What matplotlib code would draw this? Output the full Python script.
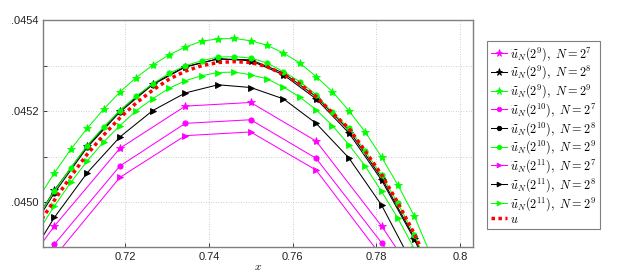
import matplotlib
matplotlib.use("Agg")
import matplotlib.pyplot as plt

plt.rcParams['font.family'] = ['Liberation Sans', 'DejaVu Sans']
plt.rcParams['mathtext.fontset'] = 'cm'

# mesh nodes
x256 = [0.699219, 0.703125, 0.707031, 0.710938, 0.714844, 0.71875, 0.722656, 0.726563,
        0.730469, 0.734375, 0.738281, 0.742188, 0.746094, 0.75, 0.753906, 0.757813,
        0.761719, 0.765625, 0.769531, 0.773438, 0.777344, 0.78125, 0.785156, 0.789063,
        0.792969]
x128 = [0.695313, 0.703125, 0.710938, 0.71875, 0.726563, 0.734375, 0.742188, 0.75,
        0.757813, 0.765625, 0.773438, 0.78125, 0.789063, 0.796875]
x64 = [0.6875, 0.703125, 0.71875, 0.734375, 0.75, 0.765625, 0.78125, 0.796875]

# N = 2^7 (magenta)
m_star = [0.044750, 0.044947, 0.045118, 0.045211, 0.045219, 0.045134, 0.044947, 0.044732]
m_circ = [0.044710, 0.044907, 0.045079, 0.045173, 0.045181, 0.045096, 0.044910, 0.044696]
m_tri = [0.044679, 0.044879, 0.045054, 0.045146, 0.045154, 0.045070, 0.044880, 0.044662]

# N = 2^8 (black)
k_star = [0.044911, 0.045026, 0.045123, 0.045201, 0.045260, 0.045298, 0.045315, 0.045311,
          0.045280, 0.045227, 0.045152, 0.045048, 0.044918, 0.044763]
k_circ = [0.044905, 0.045020, 0.045120, 0.045198, 0.045258, 0.045297, 0.045315, 0.045313,
          0.045284, 0.045232, 0.045158, 0.045053, 0.044922, 0.044768]
k_tri = [0.044848, 0.044966, 0.045064, 0.045143, 0.045201, 0.045240, 0.045258, 0.045252,
         0.045227, 0.045173, 0.045097, 0.044993, 0.044856, 0.044685]

# N = 2^9 (green)
g_star = [0.045007, 0.045064, 0.045116, 0.045162, 0.045204, 0.045242, 0.045274, 0.045301,
          0.045324, 0.045341, 0.045354, 0.045359, 0.045360, 0.045355, 0.045345, 0.045328,
          0.045306, 0.045276, 0.045243, 0.045201, 0.045154, 0.045099, 0.045037, 0.044969,
          0.044884]
g_circ = [0.044968, 0.045024, 0.045075, 0.045124, 0.045165, 0.045201, 0.045233, 0.045260,
          0.045283, 0.045300, 0.045311, 0.045319, 0.045320, 0.045317, 0.045306, 0.045287,
          0.045265, 0.045236, 0.045197, 0.045163, 0.045112, 0.045059, 0.044997, 0.044928,
          0.044845]
g_tri = [0.044935, 0.044991, 0.045043, 0.045090, 0.045132, 0.045168, 0.045201, 0.045227,
         0.045250, 0.045267, 0.045278, 0.045285, 0.045286, 0.045280, 0.045271, 0.045253,
         0.045231, 0.045203, 0.045168, 0.045126, 0.045079, 0.045023, 0.044964, 0.044897,
         0.044822]

# exact solution u
u_vals = [0.044950, 0.045004, 0.045056, 0.045105, 0.045147, 0.045185, 0.045218, 0.045246,
          0.045270, 0.045288, 0.045300, 0.045307, 0.045309, 0.045307, 0.045298, 0.045281,
          0.045260, 0.045232, 0.045196, 0.045162, 0.045112, 0.045060, 0.044998, 0.044930,
          0.044850]

labels = [r'$\widetilde{u}_N(2^{9}),\ N=2^{7}$', r'$\widetilde{u}_N(2^{9}),\ N=2^{8}$',
          r'$\widetilde{u}_N(2^{9}),\ N=2^{9}$', r'$\widetilde{u}_N(2^{10}),\ N=2^{7}$',
          r'$\widetilde{u}_N(2^{10}),\ N=2^{8}$', r'$\widetilde{u}_N(2^{10}),\ N=2^{9}$',
          r'$\widetilde{u}_N(2^{11}),\ N=2^{7}$', r'$\widetilde{u}_N(2^{11}),\ N=2^{8}$',
          r'$\widetilde{u}_N(2^{11}),\ N=2^{9}$', r'$u$']

xticks = [0.72, 0.74, 0.76, 0.78, 0.8]
xticklabels = ['0.72', '0.74', '0.76', '0.78', '0.8']
yticks = [0.0450, 0.0451, 0.0452, 0.0453, 0.0454]
yticklabels = ['.0450', '', '.0452', '', '.0454']

MAG, BLK, GRN = '#ff00ff', '#000000', '#00ff00'

fig = plt.figure(figsize=(6.21, 2.79), dpi=100)
ax = fig.add_axes([0.070, 0.1136, 0.6917, 0.8136])

series = [
    (x64, m_star, MAG, '*', 6),
    (x128, k_star, BLK, '*', 6),
    (x256, g_star, GRN, '*', 6),
    (x64, m_circ, MAG, 'o', 3.8),
    (x128, k_circ, BLK, 'o', 3.8),
    (x256, g_circ, GRN, 'o', 3.8),
    (x64, m_tri, MAG, '>', 4),
    (x128, k_tri, BLK, '>', 4),
    (x256, g_tri, GRN, '>', 4),
]
for (xs, ys, c, mk, ms), lab in zip(series, labels[:9]):
    ax.plot(xs, ys, color=c, marker=mk, markersize=ms, linewidth=0.75,
            markeredgewidth=0.6, label=lab)
ax.plot(x256, u_vals, color='#ff0000', linewidth=2.5, linestyle=(0, (1, 1)),
        label=labels[9])

ax.set_xlim(0.7005, 0.8031)
ax.set_ylim(0.04490, 0.04540)
ax.set_xticks(xticks)
ax.set_xticklabels(xticklabels)
ax.set_yticks(yticks)
ax.set_yticklabels(yticklabels)
ax.tick_params(direction='in', length=3, labelsize=8, colors='#222222', width=0.6)
ax.grid(True, linestyle=(0, (1, 2)), color='#c0c0c0', linewidth=0.6)
for s in ax.spines.values():
    s.set_color('#7f7f7f')
    s.set_linewidth(1.0)
ax.set_xlabel(r'$x$', fontsize=8, labelpad=0)

leg = fig.legend(loc='upper left', bbox_to_anchor=(0.784, 0.852), fontsize=8.8,
                 handlelength=1.35, handletextpad=0.25, borderpad=0.3,
                 labelspacing=0.08, fancybox=False, framealpha=1,
                 edgecolor='#7f7f7f', markerscale=0.85, borderaxespad=0)
leg.get_frame().set_linewidth(0.8)

fig.savefig('out.png', dpi=100)
